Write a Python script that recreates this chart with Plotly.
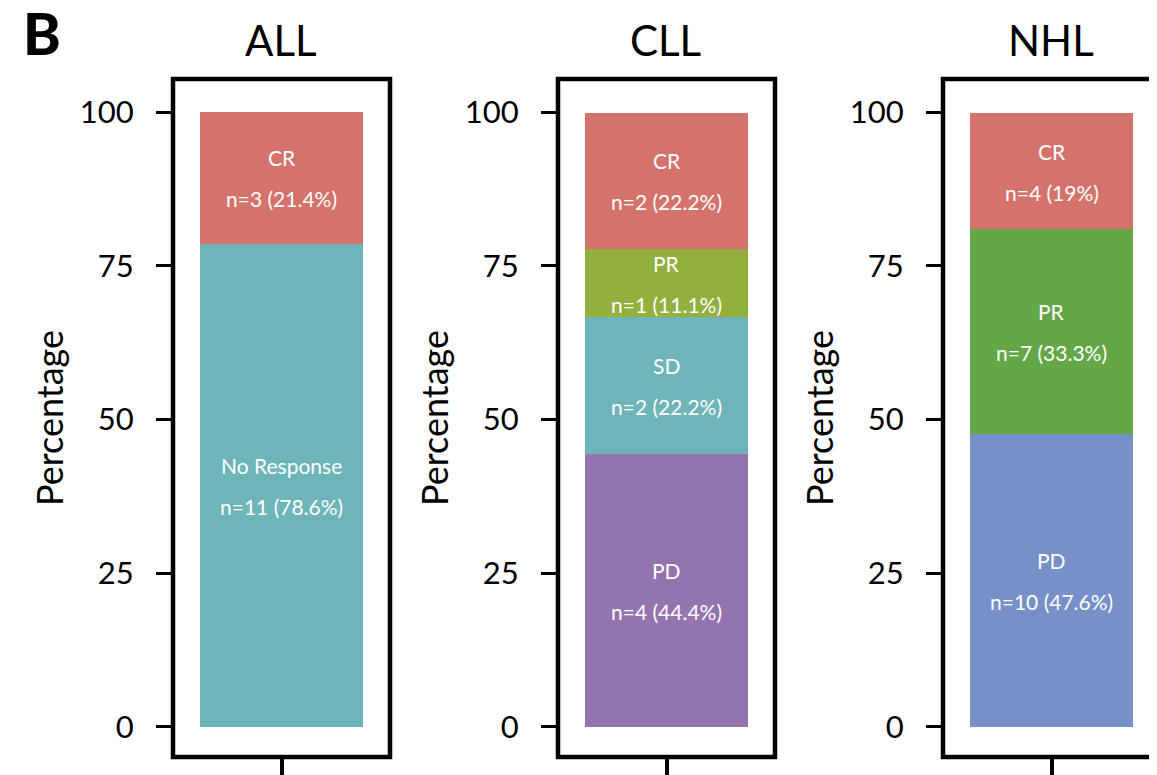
import plotly.graph_objects as go

# ---------------- data ----------------
groups = ["ALL", "CLL", "NHL"]
all_cats = ["No Response", "CR"]
all_n = [11, 3]
all_pct = [78.6, 21.4]
cll_cats = ["PD", "SD", "PR", "CR"]
cll_n = [4, 2, 1, 2]
cll_pct = [44.4, 22.2, 11.1, 22.2]
nhl_cats = ["PD", "PR", "CR"]
nhl_n = [10, 7, 4]
nhl_pct = [47.6, 33.3, 19]
y_ticks = [0, 25, 50, 75, 100]

colors_all = ["#6DB5B8", "#D4736B"]
colors_cll = ["#9474AE", "#6DB5B8", "#93AF3E", "#D4736B"]
colors_nhl = ["#7791C8", "#64A747", "#D4736B"]

panels = [
    (all_cats, all_n, all_pct, colors_all),
    (cll_cats, cll_n, cll_pct, colors_cll),
    (nhl_cats, nhl_n, nhl_pct, colors_nhl),
]

# ---------------- layout geometry (page pixels) ----------------
PAGE_W, PAGE_H = 1157, 775
OFF = 8  # default body margin of the html page
W, H = PAGE_W - OFF, PAGE_H - OFF
FONT = "Lato"
box_left0, box_step, box_w = 173, 385, 217
box_top, box_bot = 79, 757
ymin, ymax = -4.88, 105.37

def fx(px):
    return (px - OFF) / W

def fy(py):
    return 1 - (py - OFF) / H

fig = go.Figure()
layout = dict(
    width=W, height=H,
    margin=dict(l=0, r=0, t=0, b=0),
    paper_bgcolor="white", plot_bgcolor="white",
    barmode="stack", showlegend=False,
    font=dict(family=FONT, color="black"),
    template="none",
)
annotations = []
shapes = []

for i, (cats, ns, pcts, cols) in enumerate(panels):
    sfx = "" if i == 0 else str(i + 1)
    xa, ya = "x" + sfx, "y" + sfx
    L = box_left0 + box_step * i
    R = min(L + box_w, PAGE_W)
    xr_hi = -0.5 + (R - L) / box_w
    layout["xaxis" + sfx] = dict(
        domain=[fx(L), fx(R)], range=[-0.5, xr_hi], anchor=ya,
        showgrid=False, zeroline=False, showline=False,
        tickmode="array", tickvals=[0], ticktext=[""],
        ticks="outside", ticklen=20, tickwidth=3.5, tickcolor="black",
        automargin=False, fixedrange=True,
    )
    layout["yaxis" + sfx] = dict(
        domain=[fy(box_bot), fy(box_top)], range=[ymin, ymax], anchor=xa,
        showgrid=False, zeroline=False, showline=False,
        tickmode="array", tickvals=y_ticks,
        ticks="outside", ticklen=16, tickwidth=3, tickcolor="black",
        ticklabelstandoff=16,
        tickfont=dict(family=FONT, size=31, color="black"),
        automargin=False, fixedrange=True,
    )
    base = 0.0
    for c, n, p, col in zip(cats, ns, pcts, cols):
        fig.add_trace(go.Bar(
            x=[0], y=[p], width=0.75, marker=dict(color=col, line=dict(width=0)),
            xaxis=xa, yaxis=ya, hoverinfo="skip",
        ))
        mid = base + p / 2
        annotations.append(dict(
            x=0, y=mid, xref=xa, yref=ya, text=c, showarrow=False,
            yshift=20, font=dict(family=FONT, size=21, color="white"),
        ))
        annotations.append(dict(
            x=0, y=mid, xref=xa, yref=ya, text=f"n={n} ({p:g}%)", showarrow=False,
            yshift=-21, font=dict(family=FONT, size=21, color="white"),
        ))
        base += p
    # frame box
    shapes.append(dict(
        type="rect", xref="paper", yref="paper",
        x0=fx(L), x1=fx(L + box_w), y0=fy(box_bot), y1=fy(box_top),
        line=dict(color="black", width=4.5), fillcolor="rgba(0,0,0,0)", layer="above",
    ))
    # panel title
    annotations.append(dict(
        x=fx(L + box_w / 2 - 1), y=fy(40), xref="paper", yref="paper",
        text=groups[i], showarrow=False, xanchor="center", yanchor="middle",
        font=dict(family=FONT, size=42, color="black"),
    ))
    # y axis title
    annotations.append(dict(
        x=fx(L - 124), y=fy((box_top + box_bot) / 2), xref="paper", yref="paper",
        text="Percentage", textangle=-90, showarrow=False,
        xanchor="center", yanchor="middle",
        font=dict(family=FONT, size=36, color="black"),
    ))

annotations.append(dict(
    x=fx(42), y=fy(33), xref="paper", yref="paper", text="B",
    showarrow=False, xanchor="center", yanchor="middle",
    font=dict(family="Lato", size=57, color="black", weight=900),
))

layout["annotations"] = annotations
layout["shapes"] = shapes
fig.update_layout(**layout)
fig.write_html("out.html")
